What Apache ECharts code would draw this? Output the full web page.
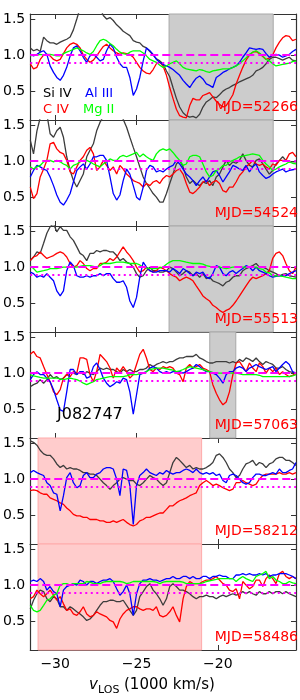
<!DOCTYPE html>
<html><head><meta charset="utf-8">
<script src="https://cdn.jsdelivr.net/npm/echarts@6/dist/echarts.min.js"></script>
<style>html,body{margin:0;padding:0;background:#fff}#chart{width:300px;height:700px}</style>
</head><body><div id="chart"></div>
<script>
// velocity grid (1000 km/s)
const velocity = [
-31.53,-31.33,-31.12,-30.92,-30.71,-30.51,-30.31,-30.10,-29.90,-29.69,
-29.49,-29.29,-29.08,-28.88,-28.67,-28.47,-28.27,-28.06,-27.86,-27.65,
-27.45,-27.24,-27.04,-26.84,-26.63,-26.43,-26.22,-26.02,-25.82,-25.61,
-25.41,-25.20,-25.00,-24.80,-24.59,-24.39,-24.18,-23.98,-23.78,-23.57,
-23.37,-23.16,-22.96,-22.76,-22.55,-22.35,-22.14,-21.94,-21.73,-21.53,
-21.33,-21.12,-20.92,-20.71,-20.51,-20.31,-20.10,-19.90,-19.69,-19.49,
-19.29,-19.08,-18.88,-18.67,-18.47,-18.27,-18.06,-17.86,-17.65,-17.45,
-17.24,-17.04,-16.84,-16.63,-16.43,-16.22,-16.02,-15.82,-15.61,-15.41,
-15.20];

const mjdLabels = ['52266','54524','55513','57063','58212','58486'];
const xTicks = [-30,-25,-20];
const yTicks = [0.5,1.0,1.5];
const xRange = [-31.53,-15.2];
const yRange = [0.1,1.57];
const refContinuum = 1.0;
const refThreshold = 0.9;
const shadeGrayWide = [-23.0,-16.6];
const shadeGrayNarrow = [-20.5,-18.9];
const shadePink = [-31.05,-21.0];

// MJD 52266
const siIV_52266 = [1.10,1.06,1.08,1.05,1.25,1.20,1.17,1.17,1.15,1.18,1.20,1.22,1.25,1.35,1.50,1.65,1.75,1.80,1.75,1.70,1.70,1.65,1.55,1.50,1.52,1.48,1.42,1.38,1.33,1.30,1.27,1.20,1.18,1.17,1.12,1.10,1.05,1.00,0.95,0.92,0.88,0.78,0.70,0.55,0.40,0.28,0.20,0.16,0.14,0.15,0.13,0.18,0.28,0.35,0.38,0.42,0.41,0.45,0.50,0.53,0.55,0.58,0.60,0.63,0.65,0.67,0.69,0.72,0.78,0.80,0.83,0.88,0.94,0.97,0.97,0.95,0.93,0.95,0.97,0.93,0.92];
const cIV_52266 = [0.88,0.81,0.83,0.94,1.00,1.01,0.99,0.94,0.92,0.94,1.02,1.10,1.15,1.17,1.15,1.10,1.00,0.94,0.90,0.93,0.99,1.06,1.12,1.15,1.10,1.06,1.03,1.01,1.03,1.02,1.01,0.97,0.90,0.83,0.78,0.75,0.74,0.80,0.88,0.90,0.85,0.72,0.55,0.40,0.25,0.16,0.14,0.13,0.30,0.40,0.38,0.38,0.44,0.46,0.48,0.42,0.36,0.32,0.28,0.30,0.37,0.45,0.60,0.72,0.83,0.93,1.00,1.04,1.05,1.02,0.98,0.94,0.96,1.00,1.10,1.18,1.24,1.27,1.26,1.20,1.22];
const alIII_52266 = [1.01,0.99,1.01,1.04,1.06,1.01,0.85,0.76,0.69,0.65,0.72,0.83,0.99,1.10,1.13,1.06,0.97,0.90,0.99,1.01,0.97,0.92,0.94,1.06,1.15,1.10,0.97,0.88,0.83,0.83,0.69,0.44,0.53,0.69,0.92,1.10,1.06,1.01,0.94,0.90,0.87,0.85,0.83,0.80,0.76,0.72,0.65,0.60,0.55,0.62,0.68,0.71,0.67,0.60,0.58,0.55,0.69,0.72,0.76,0.78,0.81,0.83,0.85,0.90,0.97,1.03,1.10,1.09,1.08,1.09,1.08,1.02,0.97,1.00,1.01,1.00,0.97,0.99,1.01,1.05,1.08];
const mgII_52266 = [0.99,1.00,1.00,1.01,1.00,1.01,1.01,1.00,0.99,0.99,1.02,1.04,1.06,1.08,1.10,1.08,1.06,1.03,1.01,1.05,1.13,1.20,1.22,1.20,1.16,1.13,1.08,1.04,1.02,1.01,1.04,1.06,1.06,1.06,1.03,0.99,0.94,0.92,0.90,0.86,0.83,0.85,0.88,0.90,0.92,0.88,0.83,0.81,0.80,0.79,0.78,0.80,0.79,0.77,0.76,0.78,0.79,0.80,0.81,0.81,0.81,0.83,0.85,0.88,0.92,0.96,1.01,1.04,1.06,1.03,0.99,0.94,0.92,0.88,0.85,0.86,0.87,0.88,0.89,0.91,0.92];

// MJD 54524
const siIV_54524 = [1.29,1.10,1.42,1.60,1.70,1.65,1.38,1.33,1.42,1.47,1.33,1.06,0.87,0.73,0.64,0.73,0.82,1.06,1.15,1.24,1.42,1.54,1.62,1.70,1.75,1.75,1.70,1.65,1.58,1.47,1.33,1.19,1.06,0.92,0.78,0.69,0.62,0.55,0.50,0.43,0.43,0.55,0.69,0.82,0.96,1.01,0.92,0.78,0.69,0.73,0.69,0.66,0.71,0.69,0.73,0.66,0.78,0.82,0.92,1.01,0.94,0.99,0.97,1.01,1.10,1.01,0.94,0.92,1.01,1.03,0.96,0.89,0.82,0.87,0.96,1.01,1.06,1.01,0.99,0.99,0.99];
const cIV_54524 = [0.64,0.48,0.55,0.78,0.89,1.01,1.24,1.26,1.17,1.12,1.10,1.01,0.85,0.82,0.92,1.01,1.06,1.15,1.19,1.10,0.87,0.92,1.01,0.94,0.87,0.92,0.82,0.94,0.89,0.82,0.78,0.73,0.71,0.69,0.64,0.69,0.66,0.71,0.73,0.69,0.76,0.80,0.78,0.82,0.87,0.89,0.82,0.69,0.57,0.55,0.59,0.64,0.71,0.73,0.66,0.71,0.73,0.69,0.59,0.57,0.64,0.64,0.71,0.80,0.85,0.92,0.96,1.01,0.96,0.94,0.96,0.92,0.89,0.96,0.94,1.01,1.01,1.01,1.10,1.12,1.06];
const alIII_54524 = [0.78,0.87,0.94,0.92,0.89,0.87,0.78,0.66,0.53,0.43,0.39,0.46,0.55,0.71,0.87,0.92,0.96,0.89,0.96,1.06,1.06,1.08,1.08,1.01,0.78,0.55,0.46,0.53,0.73,0.89,0.82,0.66,0.50,0.46,0.64,0.87,0.94,0.92,0.85,0.87,0.85,0.89,0.92,0.94,1.01,0.96,0.89,0.82,0.78,0.73,0.66,0.73,0.78,0.71,0.78,0.85,0.87,0.80,0.71,0.78,0.85,0.94,0.92,0.89,0.87,0.94,0.85,0.92,0.96,0.85,0.80,0.76,0.78,0.82,0.85,0.87,0.89,0.85,0.87,0.88,0.89];
const mgII_54524 = [0.92,0.89,0.92,0.94,0.99,1.01,1.01,0.99,1.01,0.99,0.96,0.94,0.89,0.94,0.96,0.99,1.01,1.01,0.99,0.96,0.94,0.92,0.96,0.99,1.03,1.01,1.01,1.06,1.08,1.06,1.08,1.10,1.12,1.06,1.10,1.06,1.03,1.01,1.10,1.15,1.17,1.15,1.17,1.12,1.06,1.01,0.94,0.96,1.06,1.08,1.08,1.06,0.96,0.85,0.78,0.80,0.87,0.89,0.94,0.94,0.99,1.01,1.03,1.06,1.07,1.08,1.09,1.10,1.09,1.08,1.01,0.96,0.92,0.87,0.89,0.92,0.94,0.96,0.99,0.97,0.96];

// MJD 55513
const siIV_55513 = [1.09,1.14,1.21,1.19,1.33,1.47,1.56,1.60,1.49,1.56,1.51,1.51,1.42,1.37,1.28,1.19,1.16,1.09,1.19,1.19,1.23,1.21,1.23,1.23,1.21,1.21,1.16,1.09,1.12,1.07,1.05,1.00,0.91,0.86,0.88,0.95,1.00,0.95,0.95,0.93,0.93,0.95,1.00,0.98,0.93,0.88,0.91,0.95,0.93,0.88,0.91,0.86,0.91,0.84,0.86,0.81,0.79,0.77,0.74,0.79,0.81,0.86,0.88,0.88,0.95,0.98,1.00,1.02,1.05,1.00,1.00,0.98,0.95,0.93,0.91,0.88,0.90,0.91,0.88,0.87,0.86];
const cIV_55513 = [1.09,1.14,1.16,1.21,1.16,1.12,1.14,1.16,1.19,1.21,1.19,1.14,1.05,1.00,1.02,1.09,1.05,0.98,0.95,0.98,0.98,1.05,1.05,1.07,1.12,1.09,1.14,1.21,1.28,1.21,1.16,1.09,1.00,0.93,0.95,1.00,0.95,0.93,0.95,1.00,0.98,0.95,0.91,0.88,0.86,0.81,0.84,0.86,0.84,0.81,0.74,0.67,0.60,0.56,0.53,0.47,0.44,0.40,0.37,0.40,0.42,0.47,0.53,0.60,0.67,0.74,0.81,0.86,0.84,0.86,0.88,0.91,0.95,1.12,1.19,1.21,1.16,1.05,0.95,0.91,1.00];
const alIII_55513 = [0.93,0.91,0.86,0.88,0.86,0.91,0.86,0.81,0.67,0.60,0.67,0.95,1.07,1.02,0.88,0.86,0.86,0.88,0.86,0.88,0.88,0.91,0.88,0.91,0.91,0.84,0.79,0.79,0.81,0.72,0.53,0.44,0.58,0.86,1.07,1.00,0.95,0.93,0.93,0.95,0.95,0.95,0.93,0.98,0.95,0.91,0.98,0.95,0.91,0.88,0.93,0.91,0.93,0.86,0.84,0.91,1.02,1.00,0.91,0.88,0.93,0.95,0.91,0.95,0.98,1.02,1.00,0.95,1.00,0.95,0.93,0.91,0.88,0.86,0.87,0.88,0.88,0.88,0.91,0.93,0.95];
const mgII_55513 = [1.02,0.98,0.93,0.94,0.95,0.96,0.98,0.98,0.98,0.99,1.00,1.00,1.00,1.00,1.00,1.01,1.02,1.02,1.02,1.01,1.00,1.02,1.05,1.05,1.05,1.06,1.07,1.07,1.07,1.06,1.05,1.05,1.05,1.03,1.00,0.99,0.98,0.98,0.98,0.99,1.00,1.04,1.07,1.09,1.09,1.09,1.08,1.07,1.06,1.05,1.05,1.05,1.04,1.02,1.01,1.00,1.00,1.00,0.99,0.98,0.99,1.00,1.00,1.00,1.00,1.00,1.00,1.00,1.00,0.98,0.97,0.93,0.92,0.88,0.88,0.88,0.87,0.86,0.85,0.84,0.84];

// MJD 57063
const siIV_57063 = [0.81,0.84,0.86,0.91,0.86,0.91,0.98,0.93,0.95,0.91,0.93,0.98,1.00,1.00,0.98,1.02,0.98,1.02,1.00,0.98,1.02,1.07,1.05,1.07,1.05,1.05,1.02,1.00,1.05,1.02,1.05,1.02,1.02,1.05,1.05,1.07,1.12,1.09,1.12,1.14,1.16,1.14,1.16,1.16,1.19,1.21,1.21,1.23,1.23,1.23,1.26,1.21,1.19,1.16,1.14,1.14,1.16,1.16,1.16,1.16,1.14,1.16,1.14,1.19,1.16,1.21,1.19,1.16,1.21,1.16,1.12,1.16,1.14,1.12,1.07,1.07,1.09,1.05,1.02,1.01,1.00];
const cIV_57063 = [1.26,1.30,1.23,1.21,1.09,0.98,0.88,0.74,0.70,0.77,0.93,0.98,0.95,1.02,1.00,1.21,1.21,1.19,0.98,0.88,1.02,1.26,1.21,1.16,1.07,0.93,1.07,1.02,1.09,1.02,0.93,0.98,1.12,1.26,1.33,1.21,1.05,1.02,1.07,1.05,1.09,1.07,1.09,1.07,1.00,0.98,0.88,1.07,1.12,1.07,1.09,1.12,1.07,1.05,1.02,0.84,0.72,0.63,0.56,0.60,0.74,0.98,1.14,1.16,1.09,1.02,1.14,1.07,1.02,1.14,1.09,1.00,1.07,1.02,1.07,0.98,1.02,0.98,0.95,0.97,1.00];
const alIII_57063 = [0.91,0.98,1.02,0.98,0.98,0.93,0.88,0.77,0.63,0.49,0.47,0.74,1.05,1.05,0.98,1.02,1.02,0.93,0.95,1.09,1.14,1.05,0.93,0.86,0.81,0.84,0.88,0.86,0.93,0.91,0.74,0.43,0.70,0.98,1.00,1.02,1.07,1.09,1.07,1.02,1.00,1.02,1.00,1.02,1.02,1.02,1.00,1.02,1.05,1.07,1.12,1.09,1.05,1.02,1.02,1.00,0.98,0.93,0.86,0.98,1.02,1.02,1.07,1.09,1.07,1.02,1.07,1.09,1.12,1.09,1.07,1.05,1.07,1.09,1.02,1.07,1.12,1.16,1.12,1.02,1.00];
const mgII_57063 = [0.98,0.96,0.95,0.94,0.93,0.93,0.93,0.93,0.93,0.92,0.91,0.92,0.93,0.92,0.91,0.89,0.86,0.84,0.86,0.88,0.91,0.92,0.93,0.94,0.95,0.95,0.95,0.95,0.95,0.96,0.98,0.98,0.98,0.99,1.00,1.02,1.05,1.06,1.07,1.07,1.07,1.06,1.05,1.04,1.02,1.03,1.05,1.07,1.09,1.08,1.07,1.06,1.05,1.03,1.02,1.01,1.00,1.00,1.00,1.00,1.00,1.00,1.00,0.99,0.98,0.98,0.98,0.98,0.98,0.97,0.95,0.95,0.95,0.95,0.95,0.95,0.95,0.95,0.95,0.96,0.98];

// MJD 58212 (no Mg II)
const siIV_58212 = [1.53,1.51,1.47,1.40,1.35,1.33,1.33,1.28,1.21,1.16,1.19,1.14,1.16,1.14,1.14,1.12,1.09,1.09,1.07,1.07,1.05,1.00,0.95,0.91,0.86,0.91,0.95,1.00,1.02,1.00,0.98,0.98,0.93,0.91,0.95,1.00,1.05,1.02,1.00,0.95,0.91,0.95,1.09,1.23,1.30,1.26,1.21,1.16,1.19,1.14,1.16,1.14,1.14,1.16,1.19,1.23,1.33,1.35,1.30,1.23,1.14,1.09,1.02,1.05,1.14,1.21,1.23,1.26,1.19,1.23,1.21,1.16,1.21,1.23,1.28,1.30,1.30,1.26,1.26,1.23,1.19];
const cIV_58212 = [0.84,0.85,0.84,0.81,0.79,0.79,0.74,0.72,0.70,0.67,0.65,0.60,0.56,0.51,0.49,0.49,0.47,0.47,0.44,0.44,0.44,0.42,0.42,0.40,0.40,0.42,0.40,0.42,0.44,0.40,0.37,0.35,0.37,0.42,0.44,0.47,0.47,0.49,0.51,0.53,0.53,0.58,0.63,0.63,0.67,0.70,0.72,0.74,0.77,0.79,0.81,0.91,0.95,0.98,0.95,0.91,0.93,0.91,0.88,0.86,0.84,0.86,0.95,0.95,0.98,0.95,0.93,0.91,0.93,1.00,1.05,1.07,1.07,1.07,1.07,1.09,1.07,1.07,1.09,1.07,1.09];
const alIII_58212 = [1.09,1.12,1.09,1.07,1.05,0.95,0.91,0.81,0.79,0.56,0.77,1.02,1.09,0.95,0.88,0.91,1.05,1.09,1.02,1.02,1.07,1.09,1.14,1.16,1.16,1.14,1.00,0.77,1.14,1.12,0.91,0.37,0.91,1.05,1.09,1.14,1.09,1.07,1.05,1.09,1.07,1.12,1.09,1.07,1.09,1.09,1.12,1.14,1.12,1.09,1.14,1.09,1.07,1.09,1.07,1.09,1.05,1.07,0.98,0.95,1.05,1.07,1.05,1.00,0.95,0.93,0.95,1.02,1.07,1.07,1.05,1.05,1.07,1.09,1.07,1.14,1.09,1.09,1.12,1.14,1.23];
const mgII_58212 = [];

// MJD 58486
const siIV_58486 = [0.67,0.79,0.88,0.93,0.91,0.81,0.77,0.84,0.81,0.70,0.70,0.65,0.70,0.67,0.63,0.60,0.56,0.51,0.53,0.58,0.65,0.72,0.77,0.77,0.79,0.79,0.77,0.77,0.79,0.72,0.65,0.58,0.65,0.84,0.91,0.98,1.02,0.93,0.88,0.81,0.72,0.81,0.98,1.02,0.98,0.93,0.93,0.91,0.88,0.84,0.81,0.84,0.84,0.86,0.84,0.84,0.81,0.84,0.86,0.84,0.86,0.88,0.86,0.88,0.91,0.88,0.91,0.88,0.86,0.91,0.88,0.88,0.91,0.88,0.91,0.91,0.88,0.91,0.88,0.86,0.84];
const cIV_58486 = [0.81,0.84,0.93,0.88,0.84,0.88,0.93,0.86,0.79,0.84,0.74,0.65,0.67,0.60,0.58,0.63,0.70,0.60,0.56,0.58,0.63,0.60,0.58,0.56,0.51,0.49,0.40,0.53,0.60,0.65,0.67,0.70,0.70,0.67,0.65,0.67,0.67,0.65,0.70,0.58,0.56,0.58,0.63,0.70,0.58,0.49,0.81,0.98,1.05,1.02,1.02,1.02,1.05,1.07,1.07,1.09,1.12,1.07,1.02,1.00,0.93,0.91,0.95,0.81,1.05,1.00,0.95,0.98,1.07,1.07,0.98,1.09,1.14,1.09,1.02,1.16,1.19,1.12,1.09,1.12,1.09];
const alIII_58486 = [1.05,1.07,1.05,1.09,1.05,0.93,0.98,0.91,0.88,0.70,0.93,0.98,1.00,1.02,1.00,1.07,1.05,1.00,1.05,1.05,1.02,1.05,1.07,1.07,1.09,1.05,0.95,0.86,0.91,1.00,0.88,0.58,0.88,1.02,1.07,1.07,1.09,1.07,1.07,1.05,1.07,1.09,1.09,1.12,1.09,1.09,1.12,1.12,1.09,1.12,1.09,1.09,1.12,1.12,1.09,1.12,1.12,1.14,1.12,1.12,1.09,1.09,1.14,1.14,1.16,1.14,1.16,1.14,1.14,1.16,1.14,1.16,1.12,1.14,1.14,1.16,1.16,1.16,1.14,1.12,1.09];
const mgII_58486 = [0.72,0.65,0.63,0.65,0.72,0.79,0.81,0.86,0.88,1.00,1.02,1.02,1.00,1.02,1.02,1.02,1.02,1.05,1.04,1.02,1.02,1.02,1.04,1.05,1.05,1.05,1.05,1.05,1.04,1.02,1.03,1.05,1.05,1.05,1.05,1.05,1.05,1.05,1.04,1.02,1.04,1.05,1.05,1.05,1.05,1.05,1.04,1.02,1.02,1.02,1.02,1.02,1.03,1.05,1.06,1.07,1.08,1.09,1.09,1.09,1.09,1.09,1.05,1.09,1.12,1.09,1.07,1.05,1.12,1.14,1.16,1.19,1.09,1.12,1.07,1.05,1.02,1.02,1.05,1.03,1.02];

const panels = [
  {mjd: mjdLabels[0], si: siIV_52266, c: cIV_52266, al: alIII_52266, mg: mgII_52266, shade: shadeGrayWide, pink: false},
  {mjd: mjdLabels[1], si: siIV_54524, c: cIV_54524, al: alIII_54524, mg: mgII_54524, shade: shadeGrayWide, pink: false},
  {mjd: mjdLabels[2], si: siIV_55513, c: cIV_55513, al: alIII_55513, mg: mgII_55513, shade: shadeGrayWide, pink: false},
  {mjd: mjdLabels[3], si: siIV_57063, c: cIV_57063, al: alIII_57063, mg: mgII_57063, shade: shadeGrayNarrow, pink: false},
  {mjd: mjdLabels[4], si: siIV_58212, c: cIV_58212, al: alIII_58212, mg: mgII_58212, shade: shadePink, pink: true},
  {mjd: mjdLabels[5], si: siIV_58486, c: cIV_58486, al: alIII_58486, mg: mgII_58486, shade: shadePink, pink: true}
];

const FONT = 'DejaVu Sans';
const FRAME = '#333333';
const tops = [14,120,226,332,438,544];
const H = 106;
const grids = [], xAxes = [], yAxes = [], series = [], graphics = [];
const pair = arr => arr.map((y,k) => [velocity[k], y]);

panels.forEach((p, i) => {
  grids.push({left: 30, right: 4, top: tops[i], height: H});
  const last = i === panels.length - 1;
  const mkX = (pos, lab) => ({
    type: 'value', gridIndex: i, position: pos, min: xRange[0], max: xRange[1],
    axisLine: {show: true, onZero: false, lineStyle: {color: FRAME, width: 1.2}},
    axisTick: {show: true, inside: true, length: 5, customValues: xTicks, lineStyle: {color: FRAME, width: 1}},
    axisLabel: {show: lab, customValues: xTicks, margin: 7, color: '#000', fontSize: 14, fontFamily: FONT,
      formatter: v => String(v).replace('-', '\u2212')},
    splitLine: {show: false}
  });
  const mkY = (pos, lab) => ({
    type: 'value', gridIndex: i, position: pos, min: yRange[0], max: yRange[1],
    axisLine: {show: true, onZero: false, lineStyle: {color: FRAME, width: 1.2}},
    axisTick: {show: true, inside: true, length: 5, customValues: yTicks, lineStyle: {color: FRAME, width: 1}},
    axisLabel: {show: lab, customValues: yTicks, margin: 5, color: '#000', fontSize: 14, fontFamily: FONT,
      formatter: v => v.toFixed(1)},
    splitLine: {show: false}
  });
  xAxes.push(mkX('bottom', last), mkX('top', false));
  yAxes.push(mkY('left', true), mkY('right', false));
  const xi = 2 * i, yi = 2 * i;
  // shading
  series.push({
    type: 'line', xAxisIndex: xi, yAxisIndex: yi, data: pair(p.si), showSymbol: false, silent: true, z: 1,
    lineStyle: {opacity: 0}, animation: false,
    markArea: {silent: true, itemStyle: p.pink
      ? {color: '#ffcccc', borderColor: '#ffaaaa', borderWidth: 1}
      : {color: '#cccccc', borderColor: '#a8a8a8', borderWidth: 1},
      data: [[{xAxis: p.shade[0]}, {xAxis: p.shade[1]}]]}
  });
  const lines = [
    ['Si IV', p.si, '#3d3d3d'],
    ['C IV', p.c, '#ff0000'],
    ['Al III', p.al, '#0000ff'],
    ['Mg II', p.mg, '#00ff00']
  ];
  lines.forEach(([nm, arr, col]) => {
    if (!arr.length) return;
    series.push({name: nm, type: 'line', xAxisIndex: xi, yAxisIndex: yi, data: pair(arr), showSymbol: false,
      animation: false, z: 2, lineStyle: {color: col, width: 1.3}, itemStyle: {color: col}});
  });
  // reference lines
  series.push({
    type: 'line', xAxisIndex: xi, yAxisIndex: yi, data: pair(p.si), showSymbol: false, silent: true, z: 3,
    lineStyle: {opacity: 0}, animation: false,
    markLine: {silent: true, symbol: 'none', label: {show: false},
      data: [
        {yAxis: refContinuum, lineStyle: {color: '#ff00ff', width: 2, type: [8, 4]}},
        {yAxis: refThreshold, lineStyle: {color: '#ff00ff', width: 2, type: [2, 3.5]}}
      ]}
  });
  graphics.push({type: 'text', x: 298, y: tops[i] + H - 12.5, z: 10,
    style: {text: 'MJD=' + p.mjd, fill: '#ff0000', font: '14px "DejaVu Sans"', textAlign: 'right', textVerticalAlign: 'middle'}});
});

graphics.push(
  {type: 'text', x: 43, y: 94, z: 10, style: {text: 'Si IV', fill: '#000', font: '13px "DejaVu Sans"', textVerticalAlign: 'middle'}},
  {type: 'text', x: 85, y: 94, z: 10, style: {text: 'Al III', fill: '#0000ff', font: '13px "DejaVu Sans"', textVerticalAlign: 'middle'}},
  {type: 'text', x: 43, y: 110, z: 10, style: {text: 'C IV', fill: '#ff0000', font: '13px "DejaVu Sans"', textVerticalAlign: 'middle'}},
  {type: 'text', x: 83, y: 110, z: 10, style: {text: 'Mg II', fill: '#00ff00', font: '13px "DejaVu Sans"', textVerticalAlign: 'middle'}},
  {type: 'text', x: 57, y: 415, z: 10, style: {text: 'J082747', fill: '#000', font: '16px "DejaVu Sans"', textVerticalAlign: 'middle'}},
  {type: 'text', x: 89, y: 685, z: 10, style: {text: 'v', fill: '#000', font: 'italic 15px "DejaVu Sans"', textVerticalAlign: 'middle'}},
  {type: 'text', x: 98, y: 690, z: 10, style: {text: 'LOS', fill: '#000', font: '11px "DejaVu Sans"', textVerticalAlign: 'middle'}},
  {type: 'text', x: 124, y: 685, z: 10, style: {text: '(1000 km/s)', fill: '#000', font: '15px "DejaVu Sans"', textVerticalAlign: 'middle'}}
);

const chart = echarts.init(document.getElementById('chart'), null, {renderer: 'canvas'});
chart.setOption({
  animation: false,
  backgroundColor: '#ffffff',
  grid: grids, xAxis: xAxes, yAxis: yAxes, series: series, graphic: graphics
});
</script></body></html>
